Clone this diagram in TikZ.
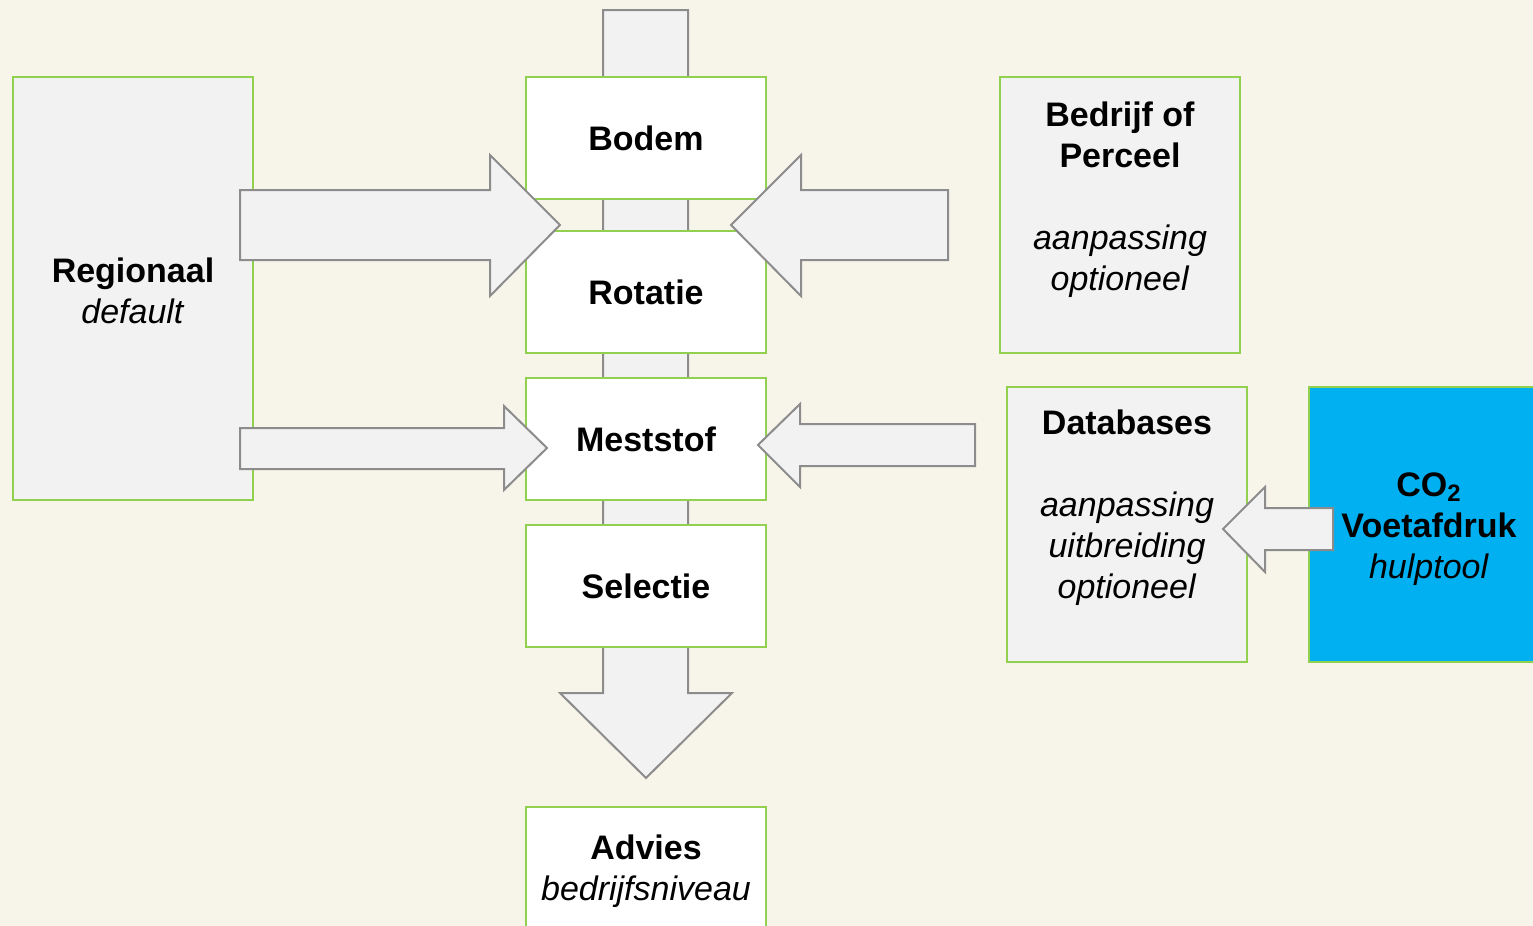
\documentclass[tikz,border=0pt]{standalone}
\usepackage{fontspec}
\setmainfont{Liberation Sans}
\usetikzlibrary{positioning}
\definecolor{BgCream}{RGB}{247,245,234}
\definecolor{BoxGrey}{RGB}{242,242,242}
\definecolor{EdgeGreen}{RGB}{146,208,80}
\definecolor{ArrowGrey}{RGB}{140,140,140}
\definecolor{ToolBlue}{RGB}{0,176,240}
\tikzset{
	box/.style={draw=EdgeGreen, line width=1pt, minimum width=120pt, inner sep=0pt, outer sep=0pt},
	stepbox/.style={box, fill=white, minimum height=61pt, align=center, font=\fontsize{17}{20.5}\selectfont\bfseries},
	sidebox/.style={box, fill=BoxGrey},
	blockarrow/.style={draw=ArrowGrey, fill=BoxGrey, line width=1pt, line join=miter},
	txt/.style={align=center, font=\fontsize{17}{20.5}\selectfont},
}

\begin{document}
\begin{tikzpicture}[x=0.5pt, y=-0.5pt]
\clip (0,0) rectangle (1533,926);
\fill[BgCream] (0,0) rectangle (1533,926);

% main flow behind the boxes
\draw[blockarrow] (603,10) -- (688,10) -- (688,693) -- (732,693) -- (646,778) -- (560,693) -- (603,693) -- cycle;

% steps
\node[stepbox] (bodem) at (646,138) {\raisebox{-1pt}{Bodem}};
\node[stepbox, below=16pt of bodem] (rotatie) {\raisebox{-1pt}{Rotatie}};
\node[stepbox, below=12.5pt of rotatie] (meststof) {\raisebox{-1pt}{Meststof}};
\node[stepbox, below=12.5pt of meststof] (selectie) {\raisebox{-1pt}{Selectie}};
\node[sidebox, fill=white, minimum height=61pt, below=80pt of selectie] (advies) {};
\node[txt] at ([yshift=-1.5pt]advies.center) {\textbf{Advies}\\\textit{bedrijfsniveau}};

% inputs
\node[sidebox, minimum height=211.5pt] (regionaal) at (133,288.5) {};
\node[txt] at ([yshift=-1pt]regionaal.center) {\textbf{Regionaal}\\\textit{default}};

\node[sidebox, minimum height=138pt] (bedrijf) at (1120,215) {};
\node[txt] at (1120,200) {\textbf{Bedrijf of}\\\textbf{Perceel}\\[20.5pt]\textit{aanpassing}\\\textit{optioneel}};

\node[sidebox, minimum height=137.5pt] (databases) at (1127,524.5) {};
\node[txt] at (1127,508) {\textbf{Databases}\\[20.5pt]\textit{aanpassing}\\\textit{uitbreiding}\\\textit{optioneel}};

\node[box, fill=ToolBlue, minimum width=122pt, minimum height=137.5pt] (co2) at (1431,524.5) {};
\node[txt] at (1429,529) {\textbf{CO\textsubscript{2}}\\\textbf{Voetafdruk}\\\textit{hulptool}};

% side arrows
\draw[blockarrow] (240,190) -- (490,190) -- (490,155) -- (560,225) -- (490,296) -- (490,260) -- (240,260) -- cycle;
\draw[blockarrow] (948,190) -- (801,190) -- (801,155) -- (731,225) -- (801,296) -- (801,260) -- (948,260) -- cycle;
\draw[blockarrow] (240,428) -- (504,428) -- (504,406) -- (547,448) -- (504,490) -- (504,469) -- (240,469) -- cycle;
\draw[blockarrow] (975,424) -- (800,424) -- (800,404) -- (758,445) -- (800,487) -- (800,466) -- (975,466) -- cycle;
\draw[blockarrow] (1333,508) -- (1265,508) -- (1265,487) -- (1223,529) -- (1265,572) -- (1265,550) -- (1333,550) -- cycle;
\end{tikzpicture}
\end{document}
